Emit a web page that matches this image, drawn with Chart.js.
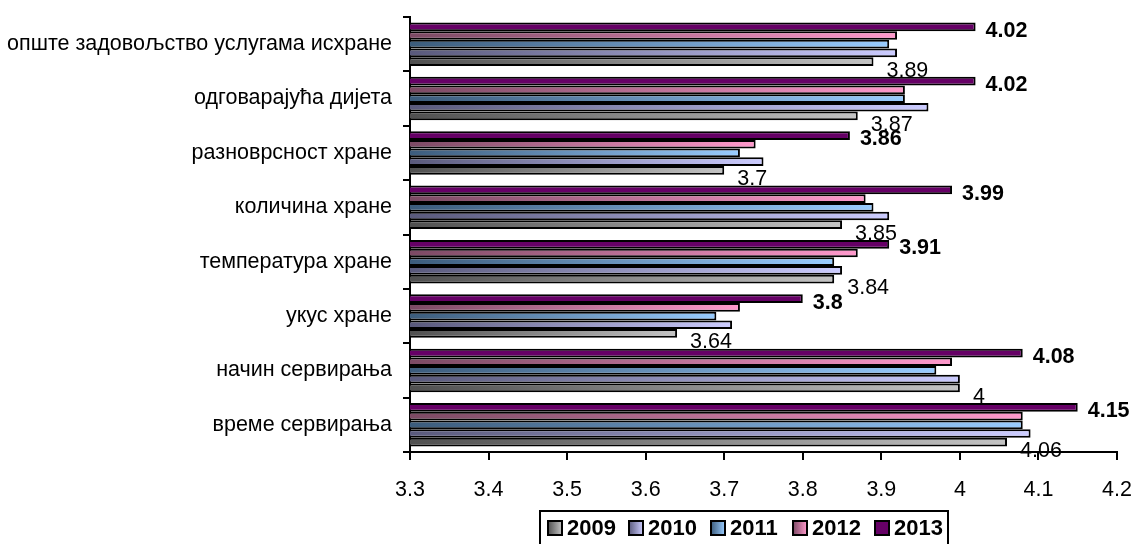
<!DOCTYPE html>
<html><head><meta charset="utf-8">
<script src="https://cdn.jsdelivr.net/npm/chart.js@4/dist/chart.umd.min.js"></script>
<style>html,body{margin:0;padding:0;background:#fff;overflow:hidden}#wrap{width:1136px;height:544px;position:relative}</style>
</head><body><div id="wrap"><canvas id="c" width="1136" height="544"></canvas></div>
<script>
const categories = ['опште задовољство услугама исхране','одговарајућа дијета','разноврсност хране','количина хране','температура хране','укус хране','начин сервирања','време сервирања'];
const years = ['2009','2010','2011','2012','2013'];
const v2009 = [3.89,3.87,3.70,3.85,3.84,3.64,4.00,4.06];
const v2010 = [3.92,3.96,3.75,3.91,3.85,3.71,4.00,4.09];
const v2011 = [3.91,3.93,3.72,3.89,3.84,3.69,3.97,4.08];
const v2012 = [3.92,3.93,3.74,3.88,3.87,3.72,3.99,4.08];
const v2013 = [4.02,4.02,3.86,3.99,3.91,3.80,4.08,4.15];
const xTickLabels = ['3.3','3.4','3.5','3.6','3.7','3.8','3.9','4','4.1','4.2'];

const colorStart = {'2009':'#505050','2010':'#5a5a7c','2011':'#3c5c7c','2012':'#7c4a64','2013':'#660066'};
const colorEnd   = {'2009':'#c4c4c4','2010':'#ccccff','2011':'#99ccff','2012':'#ff99cc','2013':'#660066'};
const seriesValues = {'2009':v2009,'2010':v2010,'2011':v2011,'2012':v2012,'2013':v2013};
const FONT = '"Liberation Sans", Arial, sans-serif';
const FS = 21.5;

function gradFill(year){
  return function(ctx){
    const ch = ctx.chart;
    if (!ch.chartArea || ctx.raw === undefined) return colorEnd[year];
    const xs = ch.scales.x;
    const x0 = xs.getPixelForValue(xs.min);
    const x1 = xs.getPixelForValue(ctx.raw);
    if (x1 - x0 < 1) return colorEnd[year];
    const g = ch.ctx.createLinearGradient(x0, 0, x1, 0);
    g.addColorStop(0, colorStart[year]);
    g.addColorStop(1, colorEnd[year]);
    return g;
  };
}

const drawOrder = ['2013','2012','2011','2010','2009'];
const datasets = drawOrder.map(y => ({
  label: y,
  data: seriesValues[y],
  backgroundColor: gradFill(y),
  borderColor: '#000',
  borderWidth: 2,
  barPercentage: 1.0,
  categoryPercentage: 0.8
}));

const labelPlugin = {
  id: 'valLabels',
  afterDatasetsDraw(chart){
    const c = chart.ctx;
    chart.data.datasets.forEach((ds, di) => {
      if (ds.label !== '2013' && ds.label !== '2009') return;
      const meta = chart.getDatasetMeta(di);
      c.save();
      c.fillStyle = '#000';
      c.textAlign = 'left';
      c.textBaseline = 'middle';
      meta.data.forEach((bar, i) => {
        const txt = String(ds.data[i]);
        if (ds.label === '2013') {
          c.font = 'bold ' + FS + 'px ' + FONT;
          c.fillText(txt, bar.x + 10, bar.y + 4);
        } else {
          c.font = FS + 'px ' + FONT;
          c.fillText(txt, bar.x + 13, bar.y + 9);
        }
      });
      c.restore();
    });
  }
};

const legendPlugin = {
  id: 'boxLegend',
  afterDraw(chart){
    const c = chart.ctx;
    c.save();
    c.strokeStyle = '#000';
    c.lineWidth = 2;
    c.strokeRect(540, 511, 408, 40);
    const xs = [548, 629, 711, 793, 875];
    years.forEach((y, i) => {
      const x = xs[i], top = 521, s = 14;
      const g = c.createLinearGradient(x, 0, x + s, 0);
      g.addColorStop(0, colorStart[y]);
      g.addColorStop(1, colorEnd[y]);
      c.fillStyle = g;
      c.fillRect(x, top, s, s);
      c.lineWidth = 2;
      c.strokeRect(x, top, s, s);
      c.fillStyle = '#000';
      c.font = 'bold 22px ' + FONT;
      c.textAlign = 'left';
      c.textBaseline = 'middle';
      c.fillText(y, x + 19, top + s/2 + 1);
    });
    c.restore();
  }
};

new Chart(document.getElementById('c'), {
  type: 'bar',
  data: { labels: categories, datasets },
  plugins: [labelPlugin, legendPlugin],
  options: {
    indexAxis: 'y',
    responsive: false,
    animation: false,
    devicePixelRatio: 1,
    layout: { padding: { top: 17, right: 19, left: 0, bottom: 0 } },
    plugins: { legend: { display: false }, tooltip: { enabled: false } },
    scales: {
      x: {
        min: 3.3, max: 4.2,
        afterFit(s){ s.height = 92; s.paddingLeft = 0; s.paddingRight = 0; },
        ticks: { stepSize: 0.1, color: '#000', font: { size: FS, family: FONT }, padding: 17, maxRotation: 0,
          callback: (v, i) => xTickLabels[i] },
        grid: { drawOnChartArea: false, drawTicks: true, tickLength: 8, color: '#000', lineWidth: 2 },
        border: { display: true, color: '#000', width: 2 }
      },
      y: {
        afterFit(s){ s.width = 410; s.paddingTop = 0; s.paddingBottom = 0; },
        ticks: { color: '#000', font: { size: FS, family: FONT }, padding: 11, autoSkip: false },
        grid: { drawOnChartArea: false, drawTicks: true, tickLength: 7, color: '#000', lineWidth: 2, offset: true },
        border: { display: true, color: '#000', width: 2 }
      }
    }
  }
});
</script></body></html>
